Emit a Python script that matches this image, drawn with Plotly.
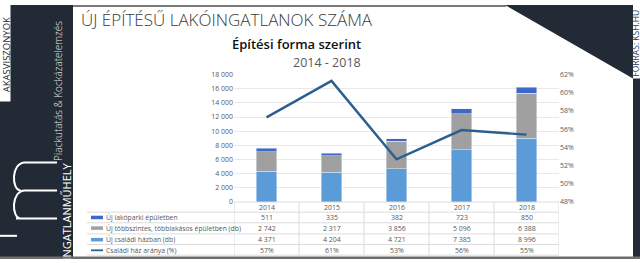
import plotly.graph_objects as go

W, H = 640, 263

years = ["2014", "2015", "2016", "2017", "2018"]
lakopark = [511, 335, 382, 723, 850]
tobbszintes = [2742, 2317, 3856, 5096, 6388]
csaladi = [4371, 4204, 4721, 7385, 8996]
arany = [57.3, 61.3, 52.7, 55.9, 55.4]

row_labels = ["Új lakóparki épületben",
              "Új többszintes, többlakásos épületben (db)",
              "Új családi házban (db)",
              "Családi ház aránya (%)"]

C_LAKO = "#3d68c9"
C_TOBB = "#a0a0a0"
C_CSAL = "#5b9bd8"
C_LINE = "#2a5f90"
DARK = "#222a35"
FONT = "Open Sans"


def px(x):
    return x / W


def py(y):
    return 1 - y / H


def fmt(v):
    return f"{v:,}".replace(",", " ")


fig = go.Figure()
fig.add_bar(x=years, y=csaladi, marker_color=C_CSAL, width=0.31, name=row_labels[2])
fig.add_bar(x=years, y=tobbszintes, marker_color=C_TOBB, width=0.31, name=row_labels[1])
fig.add_bar(x=years, y=lakopark, marker_color=C_LAKO, width=0.31, name=row_labels[0])
fig.add_scatter(x=years, y=arany, yaxis="y2", mode="lines",
                line=dict(color=C_LINE, width=2.4), name=row_labels[3])

tickfont = dict(family=FONT, size=7, color="#595959")
fig.update_layout(
    width=W, height=H, margin=dict(l=0, r=0, t=0, b=0),
    paper_bgcolor="white", plot_bgcolor="white",
    barmode="stack", showlegend=False, separators=", ",
    xaxis=dict(type="category", domain=[px(234), px(559)], range=[-0.5, 4.5],
               showticklabels=False, showgrid=False, zeroline=False, ticks=""),
    yaxis=dict(domain=[py(204), py(72)], range=[0, 18000], dtick=2000,
               tickformat=",d", tickfont=tickfont, gridcolor="#e9e9e9",
               gridwidth=1, zeroline=False, showline=False, ticks=""),
    yaxis2=dict(overlaying="y", side="right", range=[48, 62], dtick=2,
                ticksuffix="%", tickfont=tickfont, showgrid=False,
                zeroline=False, showline=False, ticks=""),
)

shapes = []
# decorative frame
shapes.append(dict(type="rect", xref="paper", yref="paper", x0=0, x1=px(73),
                   y0=0, y1=1, fillcolor=DARK, line_width=0, layer="below"))
shapes.append(dict(type="rect", xref="paper", yref="paper", x0=0, x1=px(10.5),
                   y0=py(100), y1=1, fillcolor="white", line_width=0, layer="below"))
shapes.append(dict(type="rect", xref="paper", yref="paper", x0=px(73), x1=px(506),
                   y0=py(2), y1=1, fillcolor="#7a7a7a", line_width=0, layer="below"))
shapes.append(dict(type="path", xref="paper", yref="paper",
                   path=f"M {px(505)} {py(0)} L {px(633)} {py(0)} L {px(633)} {py(76)} Z",
                   fillcolor=DARK, line_width=0, layer="below"))
shapes.append(dict(type="rect", xref="paper", yref="paper", x0=px(633), x1=1,
                   y0=0, y1=py(76), fillcolor=DARK, line_width=0, layer="below"))
shapes.append(dict(type="rect", xref="paper", yref="paper", x0=0, x1=1,
                   y0=0, y1=py(260.5), fillcolor="#6e6e6e", line_width=0, layer="above"))

# logo "im" (rotated)
m_path = (f"M {px(57)} {py(221)} L {px(16)} {py(221)} "
          f"M {px(21)} {py(221)} C {px(11)} {py(221)}, {px(11)} {py(192)}, {px(25)} {py(192)} L {px(57)} {py(192)} "
          f"M {px(21)} {py(192)} C {px(11)} {py(192)}, {px(11)} {py(163)}, {px(25)} {py(163)} L {px(57)} {py(163)}")
shapes.append(dict(type="path", xref="paper", yref="paper", path=m_path,
                   line=dict(color="white", width=2), layer="above"))
shapes.append(dict(type="line", xref="paper", yref="paper", x0=0, x1=px(17),
                   y0=py(239), y1=py(239), line=dict(color="white", width=2)))

# table lines
GRID = "#dcdcdc"
for yy in [204, 214.5, 225.5, 237, 248, 259]:
    x0 = 234 if yy == 204 else 87
    shapes.append(dict(type="line", xref="paper", yref="paper", x0=px(x0), x1=px(559),
                       y0=py(yy), y1=py(yy), line=dict(color=GRID, width=1)))
for i in range(len(years) + 1):
    shapes.append(dict(type="line", xref="x", yref="paper", x0=i - 0.5, x1=i - 0.5,
                       y0=py(204), y1=py(259), line=dict(color=GRID, width=1)))

# legend keys in table
row_y = [220, 231, 243, 254]
key_cols = [C_LAKO, C_TOBB, C_CSAL, C_LINE]
for k, (yy, c) in enumerate(zip(row_y, key_cols)):
    w = 3.5 if k < 3 else 1.8
    shapes.append(dict(type="line", xref="paper", yref="paper", x0=px(91), x1=px(103),
                       y0=py(yy), y1=py(yy), line=dict(color=c, width=w)))

ann = []
tf = dict(family=FONT, size=7, color="#595959")
for i, yr in enumerate(years):
    ann.append(dict(x=i, xref="x", y=py(209.5), yref="paper", text=yr, showarrow=False,
                    font=tf, xanchor="center", yanchor="middle"))
    vals = [fmt(lakopark[i]), fmt(tobbszintes[i]), fmt(csaladi[i]), f"{round(arany[i])}%"]
    for v, yy in zip(vals, row_y):
        ann.append(dict(x=i, xref="x", y=py(yy), yref="paper", text=v, showarrow=False,
                        font=tf, xanchor="center", yanchor="middle"))
for lab, yy in zip(row_labels, row_y):
    ann.append(dict(x=px(104), xref="paper", y=py(yy), yref="paper", text=lab,
                    showarrow=False, font=dict(family=FONT, size=6.8, color="#595959"),
                    xanchor="left", yanchor="middle"))

# titles
ann.append(dict(x=px(79), y=py(15), xref="paper", yref="paper",
                text="ÚJ ÉPÍTÉSŰ LAKÓINGATLANOK SZÁMA", showarrow=False,
                font=dict(family=FONT, size=17, color="#3a3a3a", weight=300),
                xanchor="left", yanchor="middle"))
ann.append(dict(x=px(363), y=py(40), xref="paper", yref="paper",
                text="Építési forma szerint", showarrow=False,
                font=dict(family=FONT, size=13, color="#111111", weight=600),
                xanchor="right", yanchor="middle"))
ann.append(dict(x=px(363), y=py(60), xref="paper", yref="paper",
                text="2014 - 2018", showarrow=False,
                font=dict(family=FONT, size=12.5, color="#595959"),
                xanchor="right", yanchor="middle"))

# side texts
ann.append(dict(x=px(6), y=py(52), xref="paper", yref="paper", text="AKASVISZONYOK",
                textangle=-90, showarrow=False, borderpad=0,
                font=dict(family=FONT, size=9.5, color=DARK),
                xanchor="center", yanchor="middle"))
ann.append(dict(x=px(58), y=py(89), xref="paper", yref="paper",
                text="Piackutatás &amp; Kockázatelemzés", textangle=-90, showarrow=False,
                font=dict(family=FONT, size=10, color="#e8e8e8", weight=300),
                xanchor="center", yanchor="middle"))
ann.append(dict(x=px(67), y=py(214), xref="paper", yref="paper", text="INGATLANMŰHELY",
                textangle=-90, showarrow=False,
                font=dict(family=FONT, size=11, color="white"),
                xanchor="center", yanchor="middle"))
ann.append(dict(x=px(636), y=py(40), xref="paper", yref="paper", text="FORRÁS: KSH.HU",
                textangle=-90, showarrow=False, borderpad=0,
                font=dict(family=FONT, size=8.5, color="#2c3e55"),
                xanchor="center", yanchor="middle"))

fig.update_layout(shapes=shapes, annotations=ann)
fig.write_html("out.html")
